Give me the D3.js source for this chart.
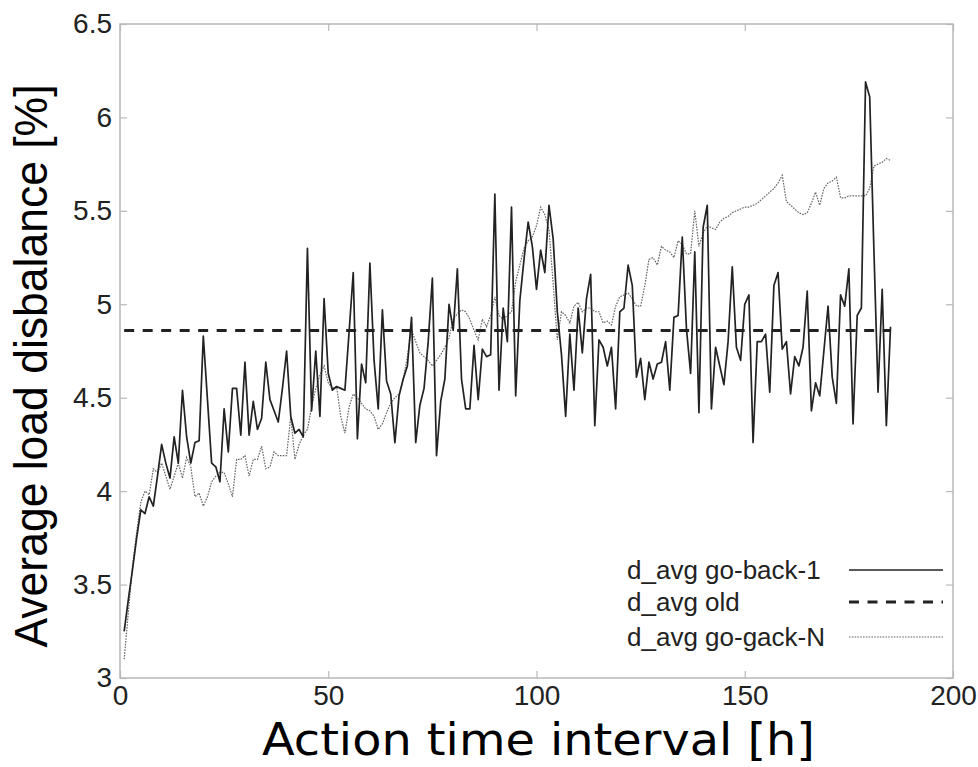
<!DOCTYPE html>
<html>
<head>
<meta charset="utf-8">
<script src="https://cdn.jsdelivr.net/npm/d3@7"></script>
<style>
  body { margin: 0; background: #fff; }
  svg { display: block; }
</style>
</head>
<body>
<div id="chart"></div>
<script>
// average load disbalance per hour (hour 1 .. 185)
var goBack1 = [
  3.25, 3.42, 3.58, 3.75, 3.90, 3.88, 3.97, 3.92, 4.08, 4.25,
  4.15, 4.07, 4.29, 4.15, 4.54, 4.29, 4.15, 4.26, 4.27, 4.83,
  4.49, 4.15, 4.13, 4.05, 4.44, 4.21, 4.55, 4.55, 4.30, 4.69,
  4.30, 4.48, 4.33, 4.39, 4.69, 4.49, 4.43, 4.37, 4.55, 4.75,
  4.40, 4.31, 4.33, 4.29, 5.30, 4.43, 4.75, 4.40, 5.03, 4.63,
  4.54, 4.56, 4.55, 4.54, 4.85, 5.17, 4.28, 4.68, 4.58, 5.22,
  4.70, 4.44, 4.97, 4.59, 4.52, 4.26, 4.51, 4.60, 4.67, 4.93,
  4.26, 4.46, 4.55, 4.80, 5.14, 4.19, 4.48, 4.60, 5.00, 4.86,
  5.19, 4.60, 4.44, 4.44, 4.78, 4.49, 4.76, 4.72, 4.73, 5.59,
  4.54, 4.98, 4.80, 5.52, 4.51, 5.02, 5.24, 5.44, 5.31, 5.08,
  5.29, 5.17, 5.53, 5.35, 4.96, 4.73, 4.40, 4.84, 4.54, 4.98,
  4.74, 5.03, 5.16, 4.35, 4.81, 4.77, 4.67, 4.77, 4.44, 4.96,
  4.98, 5.21, 5.10, 4.61, 4.71, 4.49, 4.69, 4.60, 4.68, 4.69,
  4.80, 4.54, 4.93, 4.94, 5.36, 4.87, 4.63, 5.28, 4.42, 5.41,
  5.53, 4.44, 4.77, 4.67, 4.57, 4.80, 5.20, 4.77, 4.70, 5.00,
  5.05, 4.26, 4.80, 4.80, 4.84, 4.53, 5.10, 5.17, 4.76, 4.80,
  4.52, 4.72, 4.67, 4.77, 5.07, 4.43, 4.58, 4.51, 4.75, 4.99,
  4.61, 4.47, 5.05, 4.99, 5.19, 4.36, 4.94, 4.98, 6.19, 6.11,
  5.30, 4.53, 5.08, 4.35, 4.88
];
var goBackN = [
  3.10, 3.35, 3.60, 3.78, 3.94, 4.00, 3.98, 4.12, 4.10, 4.15,
  4.08, 4.01, 4.08, 4.15, 4.07, 4.18, 4.13, 3.97, 3.99, 3.92,
  3.97, 4.05, 4.08, 4.10, 4.10, 4.04, 3.97, 4.17, 4.17, 4.19,
  4.08, 4.17, 4.17, 4.24, 4.12, 4.13, 4.21, 4.19, 4.19, 4.19,
  4.40, 4.17, 4.25, 4.30, 4.33, 4.45, 4.55, 4.62, 4.67, 4.58,
  4.55, 4.56, 4.40, 4.31, 4.45, 4.52, 4.50, 4.47, 4.44, 4.43,
  4.40, 4.33, 4.36, 4.42, 4.47, 4.50, 4.52, 4.60, 4.72, 4.86,
  4.80, 4.74, 4.72, 4.70, 4.67, 4.70, 4.73, 4.77, 4.82, 4.92,
  4.95, 4.97, 4.96, 4.92, 4.86, 4.81, 4.92, 4.88, 4.94, 5.04,
  4.94, 4.92, 4.94, 4.96, 5.12, 5.21, 5.30, 5.34, 5.36, 5.42,
  5.52, 5.48, 5.40, 5.11, 4.81, 4.96, 4.94, 4.90, 4.99, 5.01,
  4.96, 4.98, 4.98, 4.96, 4.96, 4.90, 4.91, 4.89, 4.99, 5.04,
  5.05, 5.06, 5.03, 4.99, 4.99, 5.10, 5.24, 5.25, 5.21, 5.31,
  5.29, 5.28, 5.25, 5.34, 5.32, 5.27, 5.27, 5.50, 5.31, 5.38,
  5.42, 5.41, 5.40, 5.44, 5.46, 5.47, 5.49, 5.50, 5.51, 5.52,
  5.52, 5.53, 5.54, 5.56, 5.58, 5.60, 5.62, 5.65, 5.69, 5.55,
  5.53, 5.51, 5.49, 5.48, 5.49, 5.54, 5.60, 5.53, 5.62, 5.65,
  5.66, 5.68, 5.57, 5.57, 5.58, 5.58, 5.58, 5.58, 5.58, 5.62,
  5.74, 5.75, 5.76, 5.78, 5.77
];
// the old method gives one constant average
var oldHours = [1, 185];
var oldAvg = [4.86, 4.86];

var xTicks = [0, 50, 100, 150, 200];
var yTicks = [3, 3.5, 4, 4.5, 5, 5.5, 6, 6.5];
var legendLabels = ["d_avg go-back-1", "d_avg old", "d_avg go-gack-N"];

var width = 978, height = 767;
var margin = { top: 24, right: 25, bottom: 89, left: 120 };

var svg = d3.select("#chart").append("svg")
    .attr("width", width).attr("height", height);

var x = d3.scaleLinear().domain([0, 200]).range([margin.left, width - margin.right]);
var y = d3.scaleLinear().domain([3, 6.5]).range([height - margin.bottom, margin.top]);

var fmt = function (d) { return String(d); };

/* frame, ticks point inwards on all four sides */
svg.append("rect")
    .attr("x", x(0)).attr("y", y(6.5))
    .attr("width", x(200) - x(0)).attr("height", y(3) - y(6.5))
    .attr("fill", "none").attr("stroke", "#b8b8b8").attr("stroke-width", 1.5);

var axes = [
  svg.append("g").attr("transform", "translate(0," + y(3) + ")")
     .call(d3.axisBottom(x).tickValues(xTicks).tickFormat(fmt).tickSize(-7).tickPadding(7)),
  svg.append("g").attr("transform", "translate(0," + y(6.5) + ")")
     .call(d3.axisTop(x).tickValues(xTicks).tickFormat("").tickSize(-7)),
  svg.append("g").attr("transform", "translate(" + x(0) + ",0)")
     .call(d3.axisLeft(y).tickValues(yTicks).tickFormat(fmt).tickSize(-7).tickPadding(8)),
  svg.append("g").attr("transform", "translate(" + x(200) + ",0)")
     .call(d3.axisRight(y).tickValues(yTicks).tickFormat("").tickSize(-7))
];
axes.forEach(function (g) {
    g.select(".domain").remove();
    g.selectAll(".tick line").attr("stroke", "#b8b8b8").attr("stroke-width", 1.2);
    g.selectAll(".tick text")
        .attr("fill", "#222")
        .style("font-family", "'Liberation Sans', Arial, sans-serif")
        .style("font-size", "28px");
});

/* lines */
var line = d3.line()
    .x(function (d) { return x(d[0]); })
    .y(function (d) { return y(d[1]); });

var nPts = goBackN.map(function (v, i) { return [i + 1, v]; });
var oPts = oldHours.map(function (h, i) { return [h, oldAvg[i]]; });
var bPts = goBack1.map(function (v, i) { return [i + 1, v]; });

var styles = [
  { stroke: "#222", width: 1.7, dash: null },
  { stroke: "#222", width: 3, dash: "10,8.5" },
  { stroke: "#666", width: 1.2, dash: "1.6,1.2" }
];

svg.append("path").datum(nPts).attr("d", line)
    .attr("fill", "none").attr("stroke", styles[2].stroke)
    .attr("stroke-width", styles[2].width).attr("stroke-dasharray", styles[2].dash);
svg.append("path").datum(oPts).attr("d", line)
    .attr("fill", "none").attr("stroke", styles[1].stroke)
    .attr("stroke-width", styles[1].width).attr("stroke-dasharray", styles[1].dash);
svg.append("path").datum(bPts).attr("d", line)
    .attr("fill", "none").attr("stroke", styles[0].stroke)
    .attr("stroke-width", styles[0].width).attr("stroke-linejoin", "round");

/* legend, no box */
var rowsY = [570, 602, 637];
var leg = svg.append("g");
legendLabels.forEach(function (label, i) {
    leg.append("text")
        .attr("x", 627).attr("y", rowsY[i] + 9)
        .attr("fill", "#222")
        .style("font-family", "'Liberation Sans', Arial, sans-serif")
        .style("font-size", "26px")
        .text(label);
    leg.append("line")
        .attr("x1", 849).attr("x2", 943)
        .attr("y1", rowsY[i]).attr("y2", rowsY[i])
        .attr("stroke", styles[i].stroke)
        .attr("stroke-width", styles[i].width)
        .attr("stroke-dasharray", styles[i].dash);
});

/* axis titles */
svg.append("text")
    .attr("x", (x(0) + x(200)) / 2 + 2).attr("y", 755)
    .attr("text-anchor", "middle")
    .attr("textLength", 553).attr("lengthAdjust", "spacingAndGlyphs")
    .style("font-family", "'DejaVu Sans', sans-serif")
    .style("font-size", "44px")
    .text("Action time interval [h]");

svg.append("text")
    .attr("transform", "translate(47," + 366 + ") rotate(-90)")
    .attr("text-anchor", "middle")
    .attr("textLength", 563).attr("lengthAdjust", "spacingAndGlyphs")
    .style("font-family", "'Liberation Sans', Arial, sans-serif")
    .style("font-size", "47px")
    .text("Average load disbalance [%]");
</script>
</body>
</html>
